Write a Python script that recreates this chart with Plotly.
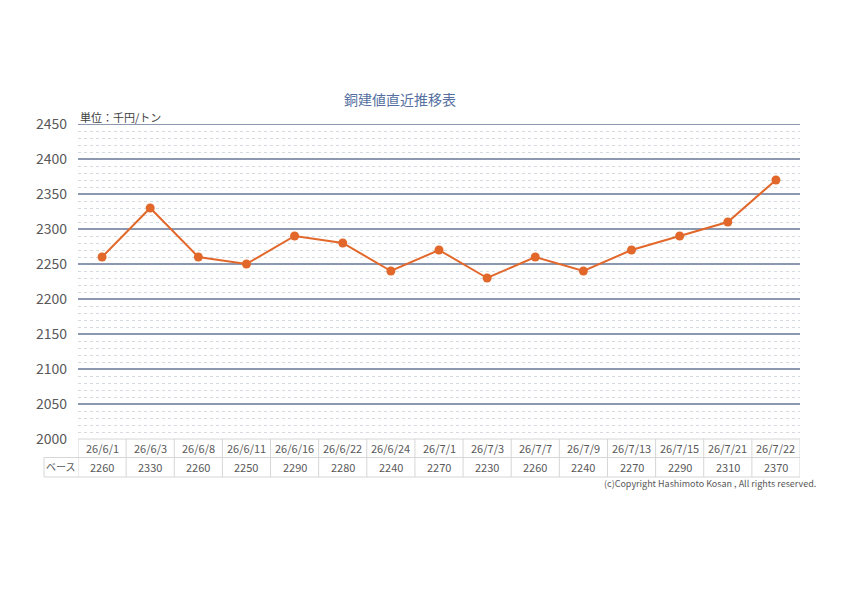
import plotly.graph_objects as go

dates = ["26/6/1", "26/6/3", "26/6/8", "26/6/11", "26/6/16", "26/6/22", "26/6/24",
         "26/7/1", "26/7/3", "26/7/7", "26/7/9", "26/7/13", "26/7/15", "26/7/21", "26/7/22"]
base = [2260, 2330, 2260, 2250, 2290, 2280, 2240, 2270, 2230, 2260, 2240, 2270, 2290, 2310, 2370]
series_name = "ベース"
title_text = "銅建値直近推移表"
unit_text = "単位：千円/トン"
copyright_text = "(c)Copyright Hashimoto Kosan , All rights reserved."
y_min, y_max = 2000, 2450

FONT = "Noto Sans CJK JP"
W, H = 844, 589
L, R, T, B = 78, 44, 124, 150
plot_h = H - T - B
plot_w = W - L - R

def py(pix):
    return (H - B - pix) / plot_h

def px(pix):
    return (pix - L) / plot_w

fig = go.Figure()
fig.add_trace(go.Scatter(
    x=list(range(len(dates))), y=base, mode="lines+markers",
    line=dict(color="#E2672A", width=2),
    marker=dict(color="#E2672A", size=9),
    showlegend=False, cliponaxis=False,
))

shapes = []
annots = []
n = len(dates)
line_col = "#d6d6d6"
y_top, y_mid, y_bot = py(439), py(457.5), py(477)
shapes.append(dict(type="line", xref="paper", yref="y", x0=0, x1=1, y0=y_max, y1=y_max,
                   line=dict(color="#8C98B0", width=2), layer="below"))
shapes.append(dict(type="line", xref="x", yref="paper", x0=-0.5, x1=n - 0.5, y0=y_top, y1=y_top,
                   line=dict(color=line_col, width=1)))
for yy in (y_mid, y_bot):
    shapes.append(dict(type="line", xref="paper", yref="paper", x0=px(44), x1=1,
                       y0=yy, y1=yy, line=dict(color=line_col, width=1)))
for i in range(n + 1):
    shapes.append(dict(type="line", xref="x", yref="paper", x0=i - 0.5, x1=i - 0.5, y0=y_top, y1=y_bot,
                       line=dict(color=line_col, width=1)))
shapes.append(dict(type="line", xref="paper", yref="paper", x0=px(44), x1=px(44),
                   y0=y_mid, y1=y_bot, line=dict(color=line_col, width=1)))

for i, (d, v) in enumerate(zip(dates, base)):
    annots.append(dict(x=i, y=py(448), xref="x", yref="paper", text=d, showarrow=False,
                       xanchor="center", yanchor="middle",
                       font=dict(family=FONT, size=11, color="#595959")))
    annots.append(dict(x=i, y=py(467), xref="x", yref="paper", text=str(v), showarrow=False,
                       xanchor="center", yanchor="middle",
                       font=dict(family=FONT, size=11, color="#595959")))
annots.append(dict(x=px(61), y=py(467), xref="paper", yref="paper", text=series_name,
                   showarrow=False, xanchor="center", yanchor="middle",
                   font=dict(family=FONT, size=10, color="#595959")))
annots.append(dict(x=px(818), y=py(483), xref="paper", yref="paper", text=copyright_text,
                   showarrow=False, xanchor="right", yanchor="middle",
                   font=dict(family=FONT, size=9, color="#595959")))
annots.append(dict(x=0, y=py(117), xref="paper", yref="paper", text=unit_text, showarrow=False,
                   xanchor="left", yanchor="middle", font=dict(family=FONT, size=11, color="#404040")))
annots.append(dict(x=px(400), y=py(99), xref="paper", yref="paper", text=title_text,
                   showarrow=False, xanchor="center", yanchor="middle",
                   font=dict(family=FONT, size=14, color="#5570A0")))

fig.update_layout(
    width=W, height=H, margin=dict(l=L, r=R, t=T, b=B),
    paper_bgcolor="white", plot_bgcolor="white",
    font=dict(family=FONT),
    shapes=shapes, annotations=annots,
    xaxis=dict(range=[-0.5, n - 0.5], showticklabels=False, showgrid=False, zeroline=False,
               showline=False, ticks=""),
    yaxis=dict(range=[y_min, y_max], dtick=50, tick0=y_min, showgrid=True, gridcolor="#8C98B0",
               gridwidth=2, zeroline=False, showline=False, ticks="",
               tickfont=dict(family=FONT, size=14, color="#595959"), ticklabelstandoff=10,
               minor=dict(dtick=10, tick0=y_min, showgrid=True, gridcolor="#D5D9E0", gridwidth=1,
                          griddash="dot")),
)
fig.write_html("out.html")
